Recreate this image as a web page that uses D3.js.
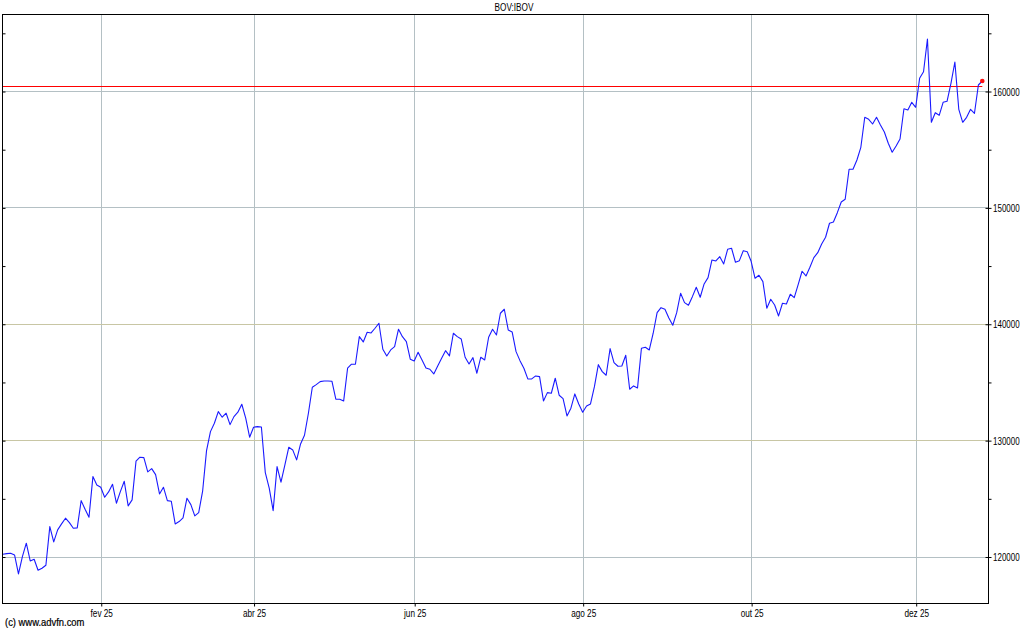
<!DOCTYPE html>
<meta charset="utf-8">
<head>
	<title>BOV:IBOV</title>
</head>

<style>
body{
	margin: 0;
	background: #fff;
}
svg{
	display: block;
}
text{
	font-family: "Liberation Sans", Arial, sans-serif;
	font-size: 10px;
	fill: #000;
}
</style>

<body>
<svg class='chart' width="1024" height="630"></svg>

<script src="https://cdnjs.cloudflare.com/ajax/libs/d3/7.8.5/d3.min.js"></script>
<script>

var title = 'BOV:IBOV';

// one close per trading day (late dec 2024 .. dez 2025)
var closes = [
	120198, 120250, 120284, 120138, 118505, 119992, 121143, 119622, 119768, 118823,
	118995, 119253, 122569, 121255, 122286, 122801, 123291, 122913, 122432, 122457,
	124803, 124064, 123377, 126865, 126151, 125954, 125095, 125550, 126212, 124579,
	125576, 126469, 124347, 124863, 128187, 128531, 128497, 127268, 127552, 127036,
	125378, 125954, 124803, 124751, 122801, 122999, 123316, 125009, 124459, 123488,
	123772, 125610, 129098, 130731, 131452, 132449, 131968, 132311, 131332, 132019,
	132397, 133084, 131882, 130249, 131109, 131160, 131134, 127209, 125868, 123944,
	127724, 126383, 127870, 129390, 129158, 128299, 129674, 130421, 132311, 134545,
	134768, 135026, 135086, 135086, 135060, 133514, 133514, 133368, 136177, 136521,
	136521, 138892, 138437, 139270, 139210, 139614, 140043, 137809, 137234, 137749,
	138033, 139528, 138892, 138462, 136950, 136804, 137552, 136890, 136203, 136091,
	135687, 136375, 137036, 137689, 137234, 139184, 138892, 138694, 137122, 136547,
	137088, 135747, 137122, 136890, 138840, 139528, 139038, 140902, 141246, 139468,
	139296, 137603, 136830, 136177, 135258, 135258, 135516, 135456, 133368, 134081,
	134029, 135318, 133858, 133565, 132079, 132741, 133969, 133110, 132397, 132938,
	133110, 134596, 136486, 135885, 135576, 137861, 136658, 136349, 136375, 137294,
	134373, 134657, 134485, 137895, 137981, 137749, 139184, 140954, 141383, 141246,
	140498, 139871, 140954, 142620, 141813, 141589, 142328, 143136, 142277, 143419,
	143961, 145481, 145395, 145765, 145138, 146400, 146486, 145284, 145421, 146280,
	146194, 145369, 143909, 144167, 143617, 141332, 142105, 141615, 140670, 141761,
	141701, 142534, 142242, 143359, 144510, 144107, 144854, 145679, 146108, 146856,
	147431, 148634, 148746, 149545, 150464, 150696, 153273, 153273, 154072, 155163,
	157741, 157569, 157165, 157741, 157079, 156478, 155507, 154734, 155275, 155876,
	158479, 158368, 159029, 158600, 161091, 161658, 164467, 157311, 158136, 157912,
	159029, 159115, 160662, 162491, 158428, 157311, 157741, 158428, 158084, 160515,
	160859
];

// month labels and the trading-day index they sit on
var monthLabels = ['fev 25', 'abr 25', 'jun 25', 'ago 25', 'out 25', 'dez 25'];
var monthIndex = [25, 64, 105, 148, 191, 233];

var yMajor = [120000, 130000, 140000, 150000, 160000];
var yMinor = [125000, 135000, 145000, 155000, 165000];

var refLevel = 160400; // red line

// plot box (names avoid window.top)
var pL = 2, pR = 988, pT = 14, pB = 603;

var svg = d3.select('.chart');

var x = d3.scaleLinear()
	.domain([0, closes.length - 1])
	.range([2.8, 982.3]);

var y = d3.scaleLinear()
	.domain([120000, 160000])
	.range([556.5, 91]);

// narrow the text a bit, the original font is condensed
function squeeze(sel, k){
	sel.each(function(){
		var w = this.getComputedTextLength();
		d3.select(this)
			.attr('textLength', w * k)
			.attr('lengthAdjust', 'spacingAndGlyphs');
	});
}

// grid
svg.append('g').attr('class', 'vgrid')
	.selectAll('line')
	.data(monthIndex)
	.enter()
	.append('line')
	.attr('x1', function(d){ return Math.round(x(d)) + 0.5; })
	.attr('x2', function(d){ return Math.round(x(d)) + 0.5; })
	.attr('y1', pT)
	.attr('y2', pB)
	.attr('stroke', '#b4c0c4')
	.attr('stroke-width', 1);

svg.append('g').attr('class', 'hgrid')
	.selectAll('line')
	.data(yMajor)
	.enter()
	.append('line')
	.attr('x1', pL)
	.attr('x2', pR)
	.attr('y1', function(d){ return Math.round(y(d)) + 0.5; })
	.attr('y2', function(d){ return Math.round(y(d)) + 0.5; })
	.attr('stroke', function(d){
		return (d == 130000 || d == 140000) ? '#c8c6a4' : '#b4c0c4';
	})
	.attr('stroke-width', 1);

// red reference line
svg.append('line')
	.attr('x1', pL)
	.attr('x2', x(closes.length - 1))
	.attr('y1', Math.round(y(refLevel)) + 0.5)
	.attr('y2', Math.round(y(refLevel)) + 0.5)
	.attr('stroke', '#ff0000')
	.attr('stroke-width', 1);

// price line
var line = d3.line()
	.x(function(d, i){ return x(i); })
	.y(function(d){ return y(d); });

svg.append('path')
	.datum(closes)
	.attr('d', line)
	.attr('fill', 'none')
	.attr('stroke', '#1a1aff')
	.attr('stroke-width', 1.1)
	.attr('stroke-linejoin', 'round');

svg.append('circle')
	.attr('cx', x(closes.length - 1))
	.attr('cy', y(closes[closes.length - 1]))
	.attr('r', 2.3)
	.attr('fill', '#ff1010');

// frame
svg.append('rect')
	.attr('x', pL + 0.5)
	.attr('y', pT + 0.5)
	.attr('width', pR - pL)
	.attr('height', pB - pT)
	.attr('fill', 'none')
	.attr('stroke', '#000')
	.attr('stroke-width', 1);

// right axis
var yAxis = d3.axisRight(y)
	.tickValues(yMajor)
	.tickSize(3)
	.tickPadding(2)
	.tickFormat(d3.format('d'));

var ya = svg.append('g')
	.attr('transform', 'translate(' + (pR + 0.5) + ',0.5)')
	.call(yAxis);
ya.select('.domain').remove();
ya.selectAll('line').attr('x1', -3);
ya.selectAll('text')
	.attr('font-size', null).attr('font-family', null)
	.attr('dy', '0.35em')
	.attr('x', 0)
	.attr('transform', 'translate(4.5,0) scale(0.8,1)');

var ym = svg.append('g')
	.attr('transform', 'translate(' + (pR + 0.5) + ',0.5)')
	.call(d3.axisRight(y).tickValues(yMinor).tickSize(3).tickFormat(''));
ym.select('.domain').remove();

// small inside ticks on left edge
svg.append('g')
	.attr('transform', 'translate(' + (pL + 0.5) + ',0.5)')
	.call(d3.axisRight(y).tickValues(yMajor.concat(yMinor)).tickSize(3).tickFormat(''))
	.select('.domain').remove();

// bottom month axis
var monthScale = d3.scaleOrdinal().domain(monthIndex).range(monthLabels);
var xAxis = d3.axisBottom(x)
	.tickValues(monthIndex)
	.tickSize(3)
	.tickPadding(3)
	.tickFormat(function(d){ return monthScale(d); });

var xa = svg.append('g')
	.attr('transform', 'translate(0.5,' + (pB + 0.5) + ')')
	.call(xAxis);
xa.select('.domain').remove();
xa.selectAll('text').attr('font-size', null).attr('font-family', null)
	.call(squeeze, 0.82);

// title and credit
svg.append('text')
	.attr('x', 514)
	.attr('y', 11)
	.attr('text-anchor', 'middle')
	.text(title)
	.call(squeeze, 0.82);

svg.append('text')
	.attr('x', 5)
	.attr('y', 626)
	.attr('stroke', '#000')
	.attr('stroke-width', 0.2)
	.text('(c) www.advfn.com')
	.call(squeeze, 0.94);

</script>
</body>
</html>
